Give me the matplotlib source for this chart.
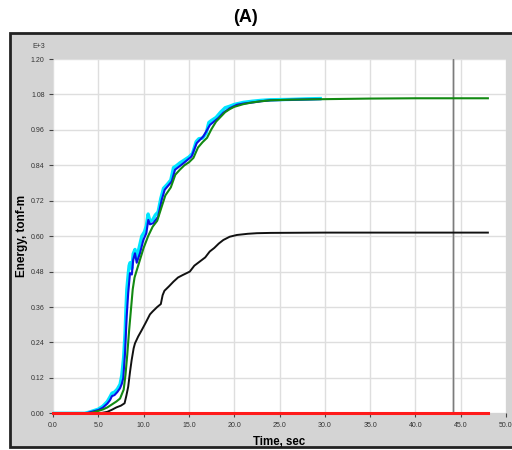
import matplotlib
matplotlib.use("Agg")
import matplotlib.pyplot as plt
from matplotlib.patches import Rectangle
import numpy as np

plt.rcParams['font.family'] = ['Liberation Sans', 'DejaVu Sans']

# Energy histories (values in E+3 tonf-m)
t_cyan = [0, 3.5, 4.0, 4.5, 5.0, 5.5, 6.0, 6.3, 6.5, 6.8, 7.1, 7.4, 7.6, 7.8, 7.95, 8.05, 8.15,
          8.3, 8.4, 8.5, 8.7, 8.85, 9.05, 9.2, 9.5, 9.8, 10.1, 10.3, 10.5, 10.7, 11.0, 11.3, 11.6,
          11.9, 12.2, 12.6, 13.0, 13.3, 13.6, 14.0, 14.5, 15.0, 15.4, 15.8, 16.1, 16.5, 16.9, 17.2,
          17.5, 18.0, 18.5, 19.0, 19.5, 20.0, 21.0, 22.0, 23.0, 24.0, 26.0, 28.0, 29.5]
e_cyan = [0, 0, 0.004, 0.009, 0.014, 0.024, 0.040, 0.056, 0.068, 0.072, 0.082, 0.098, 0.13, 0.19,
          0.27, 0.35, 0.42, 0.47, 0.50, 0.51, 0.49, 0.54, 0.555, 0.525, 0.56, 0.60, 0.615, 0.635,
          0.675, 0.65, 0.655, 0.672, 0.682, 0.728, 0.762, 0.775, 0.79, 0.832, 0.838, 0.848, 0.858,
          0.868, 0.88, 0.92, 0.93, 0.932, 0.948, 0.985, 0.992, 1.002, 1.02, 1.035, 1.04, 1.046,
          1.053, 1.057, 1.06, 1.062, 1.063, 1.065, 1.066]

t_blue = [0, 3.7, 4.0, 4.5, 5.0, 5.5, 6.0, 6.3, 6.5, 6.8, 7.1, 7.4, 7.6, 7.76, 7.95, 8.13, 8.3,
          8.5, 8.7, 8.85, 9.05, 9.24, 9.6, 9.97, 10.3, 10.52, 10.7, 11.07, 11.6, 12.0, 12.33, 13.1,
          13.47, 14.4, 15.3, 15.86, 16.6, 17.33, 18.25, 18.8, 19.5, 20.3, 21.0, 22.1, 23.0, 24.0,
          26.5, 28.0, 29.5]
e_blue = [0, 0, 0.003, 0.007, 0.011, 0.019, 0.033, 0.045, 0.058, 0.062, 0.072, 0.085, 0.10,
          0.12, 0.204, 0.327, 0.407, 0.475, 0.47, 0.52, 0.542, 0.51, 0.542, 0.587, 0.61, 0.655,
          0.64, 0.644, 0.666, 0.723, 0.757, 0.785, 0.825, 0.847, 0.87, 0.915, 0.938, 0.977, 1.0,
          1.018, 1.033, 1.045, 1.049, 1.053, 1.057, 1.06, 1.062, 1.063, 1.064]

t_green = [0, 4.0, 4.5, 5.0, 5.5, 6.0, 6.5, 7.0, 7.4, 7.8, 8.0, 8.2, 8.4, 8.6, 8.8, 9.0, 9.3,
           9.6, 10.0, 10.5, 11.0, 11.5, 12.0, 12.4, 13.0, 13.5, 14.0, 14.5, 15.0, 15.5, 16.0,
           16.5, 17.0, 17.5, 18.0, 18.5, 19.0, 19.5, 20.0, 21.0, 22.0, 23.0, 24.0, 26.0, 30.0,
           35.0, 40.0, 48.0]
e_green = [0, 0, 0.004, 0.008, 0.013, 0.02, 0.03, 0.04, 0.05, 0.08, 0.13, 0.2, 0.28, 0.35, 0.42,
           0.46, 0.49, 0.52, 0.56, 0.60, 0.632, 0.652, 0.70, 0.738, 0.765, 0.808, 0.825, 0.84,
           0.85, 0.865, 0.90, 0.918, 0.933, 0.963, 0.988, 1.004, 1.02, 1.03, 1.038, 1.047, 1.053,
           1.057, 1.06, 1.062, 1.064, 1.066, 1.067, 1.067]

t_black = [0, 5.0, 5.5, 6.0, 6.5, 7.0, 7.5, 7.9, 8.1, 8.3, 8.5, 8.68, 8.9, 9.05, 9.4, 9.8, 10.2,
           10.7, 11.0, 11.5, 11.9, 12.1, 12.3, 12.8, 13.3, 13.8, 14.3, 15.1, 15.6, 16.2, 16.8,
           17.3, 17.8, 18.3, 18.8, 19.5, 20.3, 21.5, 22.5, 24.0, 30.0, 48.0]
e_black = [0, 0, 0.002, 0.005, 0.012, 0.02, 0.026, 0.034, 0.06, 0.09, 0.14, 0.18, 0.22, 0.237,
           0.26, 0.282, 0.305, 0.335, 0.345, 0.36, 0.37, 0.40, 0.415, 0.43, 0.446, 0.46, 0.468,
           0.48, 0.50, 0.514, 0.528, 0.548, 0.56, 0.575, 0.587, 0.598, 0.604, 0.608, 0.61, 0.611,
           0.612, 0.612]

t_red = [0, 48.0]
e_red = [0, 0]

marker_time = 44.2

x_ticks = np.arange(0, 50.1, 5.0)
y_ticks = np.arange(0, 1.201, 0.12)

fig = plt.figure(figsize=(5.12, 4.5), dpi=100)
fig.patch.set_facecolor('white')

# grey panel with dark frame, kept behind the axes
panel = Rectangle((10 / 512, 3 / 450), 1.0, 1 - 33 / 450 - 3 / 450,
                  transform=fig.transFigure, facecolor='#d4d4d4',
                  edgecolor='#222222', linewidth=2.0, zorder=-10)
fig.patches.append(panel)

ax = fig.add_axes([53 / 512, 1 - 413.3 / 450, (506 - 53) / 512, (413.3 - 59) / 450])
ax.set_zorder(5)
ax.set_facecolor('white')

ax.plot(t_cyan, e_cyan, color='#00e5ff', lw=2.4, zorder=3)
ax.plot(t_blue, e_blue, color='#0a10e6', lw=1.5, zorder=4)
ax.plot(t_green, e_green, color='#128a12', lw=1.5, zorder=5)
ax.plot(t_black, e_black, color='#111111', lw=1.4, zorder=5)
ax.plot(t_red, e_red, color='#ff1a1a', lw=2.2, zorder=6, clip_on=False)
ax.axvline(marker_time, color='#bdbdbd', lw=1.8, zorder=2)
ax.axvline(marker_time, color='#7a7a7a', lw=0.7, zorder=2)

ax.set_xlim(0, 50)
ax.set_ylim(0, 1.2)
ax.set_xticks(x_ticks)
ax.set_yticks(y_ticks)
ax.set_xticklabels([f'{v:.1f}' for v in x_ticks])
ax.set_yticklabels([f'{v:.2f}' for v in y_ticks])
ax.grid(True, color='#dedede', lw=1.0, zorder=1)
ax.set_axisbelow(True)
for s in ax.spines.values():
    s.set_visible(False)
ax.tick_params(axis='both', length=3, width=0.8, color='#444444', labelsize=5,
               labelcolor='#333333', pad=3)

ax.set_ylabel('Energy, tonf-m', fontsize=8.5, fontweight='bold', labelpad=2)
ax.set_xlabel('Time, sec', fontsize=8.3, fontweight='bold', labelpad=5)
fig.text(32 / 512, 1 - 46 / 450, 'E+3', fontsize=5, color='#333333', va='center', ha='left')
fig.text(245 / 512, 1 - 18 / 450, '(A)', fontsize=13, fontweight='bold', ha='center',
         va='center')

fig.savefig('out.png', dpi=100)
